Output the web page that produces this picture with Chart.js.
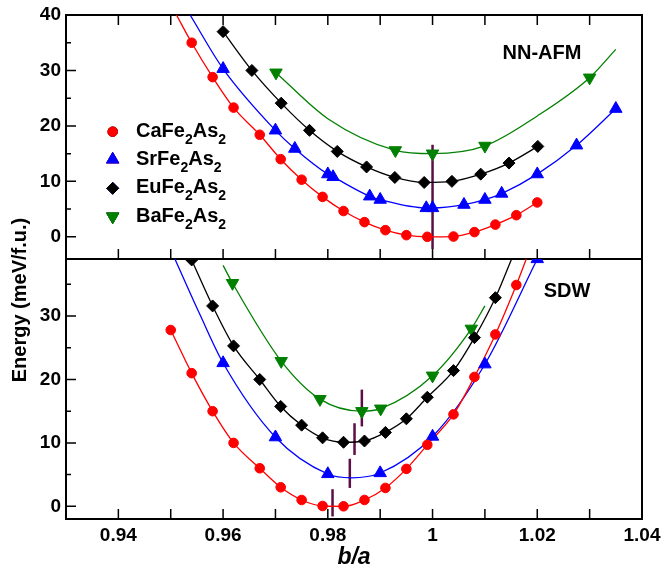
<!DOCTYPE html>
<html>
<head>
<meta charset="utf-8">
<script src="https://cdn.jsdelivr.net/npm/chart.js@4.4.1/dist/chart.umd.min.js"></script>
<style>
  html, body { margin: 0; padding: 0; background: #fff; }
</style>
</head>
<body>
<canvas id="chart1" width="661" height="569"></canvas>
<script>
// x axis
const xTickVals = [0.94, 0.96, 0.98, 1.0, 1.02, 1.04];
const xTickLabels = ['0.94', '0.96', '0.98', '1', '1.02', '1.04'];
const xMinorTicks = [0.94, 0.95, 0.96, 0.97, 0.98, 0.99, 1.0, 1.01, 1.02, 1.03];

// y axes
const afmTicks = [0, 10, 20, 30, 40];
const sdwTicks = [0, 10, 20, 30];
const afmMinor = [5, 15, 25, 35];
const sdwMinor = [5, 15, 25, 35];

// NN-AFM (top panel)
const caAfmX = [0.954, 0.958, 0.962, 0.967, 0.971, 0.975, 0.979, 0.983, 0.987, 0.991, 0.995, 0.999, 1.004, 1.008, 1.012, 1.016, 1.020];
const caAfmY = [35.0, 28.8, 23.3, 18.4, 14.0, 10.3, 7.2, 4.65, 2.65, 1.2, 0.3, 0.0, 0.05, 0.85, 2.2, 3.9, 6.2];
const srAfmX = [0.960, 0.970, 0.9737, 0.980, 0.981, 0.988, 0.990, 0.9988, 1.000, 1.006, 1.010, 1.0132, 1.020, 1.0275, 1.035];
const srAfmY = [30.3, 19.2, 15.9, 11.3, 10.8, 7.3, 6.7, 5.2, 5.2, 5.8, 6.7, 7.8, 11.3, 16.5, 23.1];
const euAfmX = [0.960, 0.9655, 0.9711, 0.9765, 0.9818, 0.9874, 0.9928, 0.9984, 1.0037, 1.0092, 1.0146, 1.0201];
const euAfmY = [37.0, 30.0, 24.1, 19.2, 15.4, 12.6, 10.7, 9.8, 10.0, 11.3, 13.3, 16.3];
const baAfmX = [0.9701, 0.9929, 1.000, 1.010, 1.030];
const baAfmY = [29.6, 15.6, 15.0, 16.4, 28.7];

// extra points (where they leave the panel etc.)
const caAfmCurve = [[0.9511, 40]];
const srAfmCurve = [[0.9537, 40]];
const euAfmCurve = [];
const baAfmCurve = [[0.980, 21.3], [1.020, 21.8], [1.035, 33.8]];

// SDW (bottom panel)
const caSdwX = [0.950, 0.954, 0.958, 0.962, 0.967, 0.971, 0.975, 0.979, 0.983, 0.987, 0.991, 0.995, 0.999, 1.004, 1.008, 1.012, 1.016];
const caSdwY = [27.8, 21.0, 15.0, 10.0, 6.0, 3.0, 1.0, 0.05, 0.0, 1.0, 2.9, 5.9, 9.7, 14.5, 20.4, 27.1, 34.9];
const srSdwX = [0.960, 0.970, 0.980, 0.990, 1.000, 1.010, 1.020];
const srSdwY = [22.6, 10.9, 5.1, 5.25, 11.0, 22.4, 39.0];
const euSdwX = [0.954, 0.958, 0.962, 0.967, 0.971, 0.975, 0.979, 0.983, 0.987, 0.991, 0.995, 0.999, 1.004, 1.008, 1.012];
const euSdwY = [38.85, 31.6, 25.3, 20.0, 15.75, 12.8, 10.8, 10.1, 10.3, 11.65, 13.8, 17.2, 21.4, 26.6, 32.9];
const baSdwX = [0.9618, 0.9711, 0.9785, 0.9865, 0.9901, 1.000, 1.0074];
const baSdwY = [35.2, 22.9, 16.9, 15.0, 15.4, 20.6, 28.0];

const caSdwCurve = [[1.0179, 39]];
const srSdwCurve = [[0.9508, 39], [0.9556, 30.2], [0.9845, 4.5]];
const euSdwCurve = [[1.0151, 39]];
const baSdwCurve = [[0.960, 38], [1.010, 31.6]];

// minimum markers (vertical bars)
const afmMarkX = [1.0];
const afmMarkLo = [-2.2];
const afmMarkHi = [16.6];
const sdwMarkX = [0.9809, 0.9842, 0.9851, 0.9865];
const sdwMarkLo = [-1.6, 2.9, 8.1, 12.6];
const sdwMarkHi = [2.7, 7.5, 13.1, 18.4];

const names = ['Ca', 'Sr', 'Eu', 'Ba'];
const colors = ['#ff0000', '#0000ff', '#000000', '#008000'];
const styles = ['circle', 'triangle', 'rectRot', 'triangle'];
const radii = [4.8, 7.2, 6, 7.2];
const rotations = [0, 0, 0, 180];
const markColor = '#5a0f46';

Chart.defaults.font.family = "'Liberation Sans', Arial, sans-serif";
Chart.defaults.color = '#000';

function pts(xs, ys) {
  return xs.map((x, i) => ({ x: x, y: ys[i] }));
}
function curve(xs, ys, extra) {
  return pts(xs, ys).concat(extra.map(p => ({ x: p[0], y: p[1] }))).sort((a, b) => a.x - b.x);
}

const panels = [
  { axis: 'yTop', xs: [caAfmX, srAfmX, euAfmX, baAfmX], ys: [caAfmY, srAfmY, euAfmY, baAfmY],
    curves: [caAfmCurve, srAfmCurve, euAfmCurve, baAfmCurve], mx: afmMarkX, lo: afmMarkLo, hi: afmMarkHi },
  { axis: 'yBot', xs: [caSdwX, srSdwX, euSdwX, baSdwX], ys: [caSdwY, srSdwY, euSdwY, baSdwY],
    curves: [caSdwCurve, srSdwCurve, euSdwCurve, baSdwCurve], mx: sdwMarkX, lo: sdwMarkLo, hi: sdwMarkHi },
];

const datasets = [];
panels.forEach(p => {
  names.forEach((n, i) => {
    datasets.push({
      label: n + ' points',
      data: pts(p.xs[i], p.ys[i]),
      yAxisID: p.axis,
      showLine: false,
      pointStyle: styles[i],
      pointRadius: radii[i],
      pointRotation: rotations[i],
      backgroundColor: colors[i],
      borderColor: colors[i],
      borderWidth: 1,
      order: 0,
    });
    datasets.push({
      label: n + ' fit',
      data: curve(p.xs[i], p.ys[i], p.curves[i]),
      yAxisID: p.axis,
      showLine: true,
      pointRadius: 0,
      borderColor: colors[i],
      borderWidth: 1.3,
      cubicInterpolationMode: 'monotone',
      order: 1,
    });
  });
  p.mx.forEach((x, i) => {
    datasets.push({
      label: 'min',
      data: [{ x: x, y: p.lo[i] }, { x: x, y: p.hi[i] }],
      yAxisID: p.axis,
      showLine: true,
      pointRadius: 0,
      borderColor: markColor,
      borderWidth: 2.5,
      order: 2,
    });
  });
});

const tickFont = { size: 19, weight: 'bold' };

function yScale(min, max, weight, ticks) {
  return {
    type: 'linear', position: 'left', stack: 'energy', stackWeight: weight,
    min: min, max: max,
    grid: { display: false, drawTicks: false }, border: { display: false },
    afterBuildTicks: s => { s.ticks = ticks.map(v => ({ value: v })); },
    ticks: { font: tickFont, padding: 5, callback: v => String(v) },
    afterFit: s => { s.width = 66; s.paddingTop = 0; s.paddingBottom = 0; },
  };
}

const framePlugin = {
  id: 'framePlugin',
  beforeDatasetsDraw(chart) {
    const ctx = chart.ctx;
    const x = chart.scales.x, top = chart.scales.yTop, bot = chart.scales.yBot;
    ctx.save();
    ctx.strokeStyle = '#000';
    ctx.lineWidth = 1.5;
    ctx.beginPath();
    xMinorTicks.forEach(v => {
      const px = x.getPixelForValue(v);
      ctx.moveTo(px, top.top); ctx.lineTo(px, top.top + 10);
      ctx.moveTo(px, top.bottom); ctx.lineTo(px, top.bottom - 10);
      ctx.moveTo(px, bot.bottom); ctx.lineTo(px, bot.bottom - 10);
    });
    [[top, afmTicks, afmMinor], [bot, sdwTicks, sdwMinor]].forEach(a => {
      a[1].forEach(v => { const py = a[0].getPixelForValue(v); ctx.moveTo(x.left, py); ctx.lineTo(x.left + 10, py); });
      a[2].forEach(v => { const py = a[0].getPixelForValue(v); ctx.moveTo(x.left, py); ctx.lineTo(x.left + 5, py); });
    });
    ctx.stroke();
    ctx.lineWidth = 2;
    [top, bot].forEach(s => ctx.strokeRect(x.left, s.top, x.right - x.left, s.bottom - s.top));
    ctx.restore();
  },
  afterDraw(chart) {
    const ctx = chart.ctx;
    const x = chart.scales.x;
    ctx.save();
    ctx.fillStyle = '#000';
    ctx.font = "bold 20px 'Liberation Sans', Arial, sans-serif";
    ctx.textAlign = 'center';
    ctx.textBaseline = 'middle';
    ctx.fillText('NN-AFM', 542, 53);
    ctx.fillText('SDW', 567, 291);

    // legend
    const rowsY = [131.7, 159.5, 188.3, 216.5];
    names.forEach((n, i) => {
      Chart.helpers.drawPoint(ctx, {
        pointStyle: styles[i], radius: radii[i], rotation: rotations[i], borderWidth: 1,
      }, 112.7, rowsY[i]);
      ctx.fillStyle = colors[i];
      ctx.strokeStyle = colors[i];
      ctx.fill();
      ctx.stroke();
    });
    ctx.fillStyle = '#000';
    ctx.textAlign = 'left';
    ctx.textBaseline = 'alphabetic';
    names.forEach((n, i) => {
      const parts = [[n + 'Fe', 0], ['2', 1], ['As', 0], ['2', 1]];
      let px = 136;
      const base = rowsY[i] + 5;
      parts.forEach(pt => {
        ctx.font = pt[1] ? "bold 14px 'Liberation Sans', Arial, sans-serif" : "bold 20px 'Liberation Sans', Arial, sans-serif";
        ctx.fillText(pt[0], px, base + (pt[1] ? 7 : 0));
        px += ctx.measureText(pt[0]).width;
      });
    });

    // axis titles
    ctx.font = "bold italic 23px 'Liberation Sans', Arial, sans-serif";
    ctx.textAlign = 'center';
    ctx.fillText('b/a', (x.left + x.right) / 2, 564);
    ctx.translate(26, 300);
    ctx.rotate(-Math.PI / 2);
    ctx.font = "bold 20px 'Liberation Sans', Arial, sans-serif";
    ctx.fillText('Energy (meV/f.u.)', 0, 0);
    ctx.restore();
  },
};

const config = {
  type: 'scatter',
  data: { datasets: datasets },
  options: {
    responsive: false,
    animation: false,
    events: [],
    layout: { padding: { top: 15, right: 19, left: 0, bottom: 0 } },
    plugins: { legend: { display: false }, tooltip: { enabled: false } },
    scales: {
      x: {
        type: 'linear', min: 0.93, max: 1.04,
        grid: { display: false, drawTicks: false }, border: { display: false },
        afterBuildTicks: s => { s.ticks = xTickVals.map(v => ({ value: v })); },
        ticks: { font: tickFont, padding: 5, maxRotation: 0, autoSkip: false,
                 callback: (v, i) => xTickLabels[i] },
        afterFit: s => { s.height = 50; s.paddingLeft = 0; s.paddingRight = 0; },
      },
      yBot: yScale(-2, 39, 260, sdwTicks),
      yTop: yScale(-4, 40, 244, afmTicks),
    },
  },
  plugins: [framePlugin],
};

var myChart = new Chart(document.getElementById('chart1'), config);
</script>
</body>
</html>
